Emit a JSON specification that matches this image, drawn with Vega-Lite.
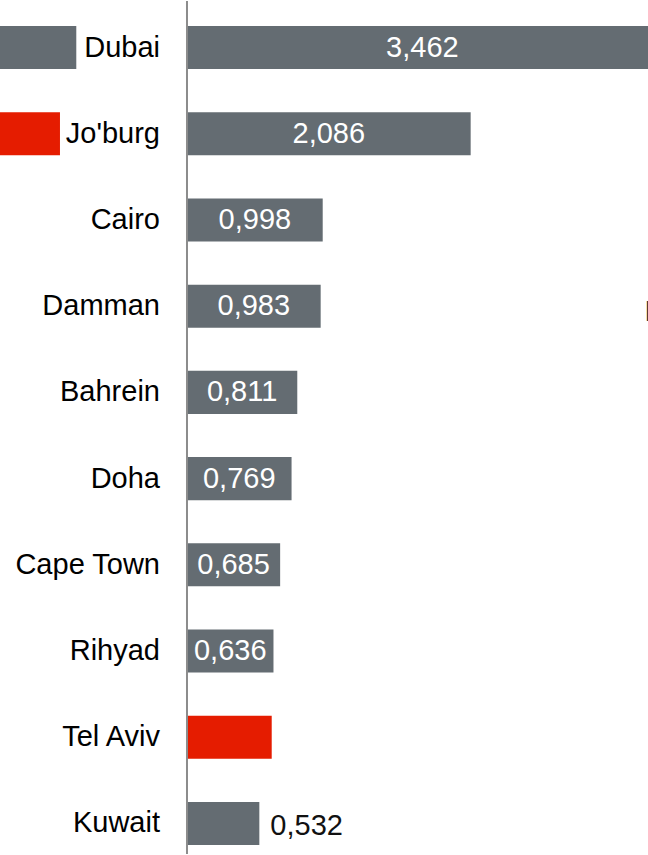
{
  "$schema": "https://vega.github.io/schema/vega-lite/v6.json",
  "width": 648,
  "height": 855,
  "autosize": {"type": "fit", "contains": "padding"},
  "padding": 0,
  "background": "white",
  "config": {
    "view": {"stroke": null},
    "font": "Liberation Sans",
    "locale": {"number": {"decimal": ",", "thousands": ".", "grouping": [3], "currency": ["", ""]}}
  },
  "data": {
    "values": [
      {"city": "Dubai", "value": 3.462, "hl": "no", "lab": "in"},
      {"city": "Jo'burg", "value": 2.086, "hl": "no", "lab": "in"},
      {"city": "Cairo", "value": 0.998, "hl": "no", "lab": "in"},
      {"city": "Damman", "value": 0.983, "hl": "no", "lab": "in"},
      {"city": "Bahrein", "value": 0.811, "hl": "no", "lab": "in"},
      {"city": "Doha", "value": 0.769, "hl": "no", "lab": "in"},
      {"city": "Cape Town", "value": 0.685, "hl": "no", "lab": "in"},
      {"city": "Rihyad", "value": 0.636, "hl": "no", "lab": "in"},
      {"city": "Tel Aviv", "value": 0.623, "hl": "yes", "lab": "none"},
      {"city": "Kuwait", "value": 0.532, "hl": "no", "lab": "out"}
    ]
  },
  "layer": [
    {
      "data": {"values": [
        {"city": "Dubai", "start": -1.6, "end": -0.814, "hl": "no"},
        {"city": "Jo'burg", "start": -1.6, "end": -0.934, "hl": "yes"}
      ]},
      "mark": {"type": "bar", "clip": true},
      "encoding": {
        "y": {"field": "city", "type": "nominal", "axis": null,
          "scale": {"domain": ["Dubai", "Jo'burg", "Cairo", "Damman", "Bahrein", "Doha", "Cape Town", "Rihyad", "Tel Aviv", "Kuwait"], "range": [25, 844], "paddingInner": 0.5, "paddingOuter": 0}},
        "x": {"field": "start", "type": "quantitative", "axis": null, "scale": {"domain": [-1.375, 3.39], "nice": false, "zero": false}},
        "x2": {"field": "end"},
        "color": {"field": "hl", "type": "nominal", "legend": null, "scale": {"domain": ["no", "yes"], "range": ["#646c72", "#e51c00"]}}
      }
    },
    {
      "mark": {"type": "bar", "clip": true},
      "encoding": {
        "y": {"field": "city", "type": "nominal"},
        "x": {"field": "value", "type": "quantitative"},
        "color": {"field": "hl", "type": "nominal"}
      }
    },
    {
      "data": {"values": [{"a": 1}]},
      "mark": {"type": "rule", "color": "#8c8c8c", "strokeWidth": 2},
      "encoding": {"x": {"datum": 0, "type": "quantitative"}}
    },
    {
      "transform": [{"filter": "datum.lab === 'in'"}, {"calculate": "datum.value / 2", "as": "mid"}],
      "mark": {"type": "text", "color": "white", "fontSize": 29, "align": "center", "baseline": "middle", "clip": true},
      "encoding": {
        "y": {"field": "city", "type": "nominal"},
        "x": {"field": "mid", "type": "quantitative"},
        "text": {"field": "value", "type": "quantitative", "format": ".3f"}
      }
    },
    {
      "transform": [{"filter": "datum.lab === 'out'"}],
      "mark": {"type": "text", "color": "#111111", "fontSize": 29, "align": "left", "baseline": "middle", "dx": 11, "dy": 3},
      "encoding": {
        "y": {"field": "city", "type": "nominal"},
        "x": {"field": "value", "type": "quantitative"},
        "text": {"field": "value", "type": "quantitative", "format": ".3f"}
      }
    },
    {
      "mark": {"type": "text", "color": "#000000", "fontSize": 29, "align": "right", "baseline": "middle", "dx": -27},
      "encoding": {
        "y": {"field": "city", "type": "nominal"},
        "x": {"datum": 0, "type": "quantitative"},
        "text": {"field": "city", "type": "nominal"}
      }
    },
    {
      "data": {"values": [{"city": "Damman", "t": "I"}]},
      "mark": {"type": "text", "color": "#333333", "fontSize": 29, "align": "left", "baseline": "middle", "dy": 6, "clip": true},
      "encoding": {
        "y": {"field": "city", "type": "nominal"},
        "x": {"datum": 3.363, "type": "quantitative"},
        "text": {"field": "t", "type": "nominal"}
      }
    }
  ]
}
